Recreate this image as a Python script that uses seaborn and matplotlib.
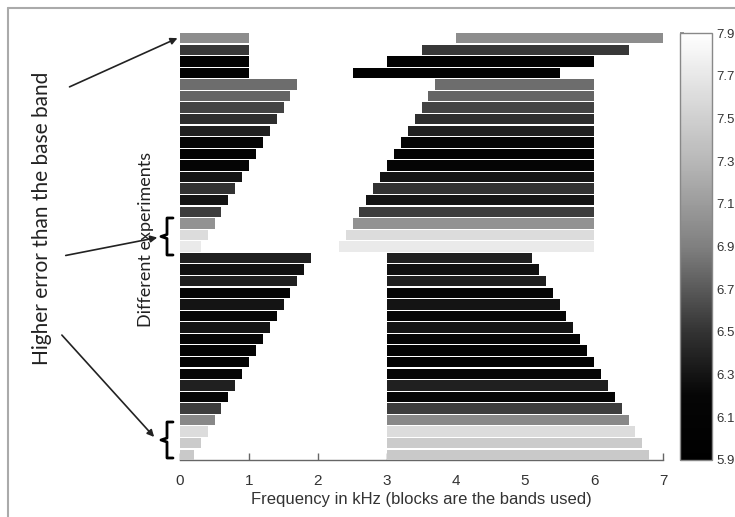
import numpy as np
import pandas as pd
import seaborn as sns
import matplotlib
matplotlib.use("Agg")
import matplotlib.pyplot as plt
from matplotlib.colors import LinearSegmentedColormap, Normalize
from matplotlib.cm import ScalarMappable
from matplotlib.lines import Line2D
from matplotlib.patches import FancyArrowPatch

# ---------------- data (one row per experiment, top to bottom) ----------------
low_band_end = [1.0, 1.0, 1.0, 1.0, 1.7, 1.6, 1.5, 1.4, 1.3, 1.2, 1.1, 1.0, 0.9, 0.8,
                0.7, 0.6, 0.5, 0.4, 0.3,
                1.9, 1.8, 1.7, 1.6, 1.5, 1.4, 1.3, 1.2, 1.1, 1.0, 0.9, 0.8, 0.7, 0.6,
                0.5, 0.4, 0.3, 0.2]
high_band_start = [4.0, 3.5, 3.0, 2.5, 3.7, 3.6, 3.5, 3.4, 3.3, 3.2, 3.1, 3.0, 2.9, 2.8,
                   2.7, 2.6, 2.5, 2.4, 2.3,
                   3.0, 3.0, 3.0, 3.0, 3.0, 3.0, 3.0, 3.0, 3.0, 3.0, 3.0, 3.0, 3.0, 3.0,
                   3.0, 3.0, 3.0, 3.0]
high_band_end = [7.0, 6.5, 6.0, 5.5, 6.0, 6.0, 6.0, 6.0, 6.0, 6.0, 6.0, 6.0, 6.0, 6.0,
                 6.0, 6.0, 6.0, 6.0, 6.0,
                 5.1, 5.2, 5.3, 5.4, 5.5, 5.6, 5.7, 5.8, 5.9, 6.0, 6.1, 6.2, 6.3, 6.4,
                 6.5, 6.6, 6.7, 6.8]
error_value = [7.00, 6.53, 6.00, 6.00, 6.80, 6.76, 6.58, 6.47, 6.38, 6.20, 6.10, 6.20,
               6.30, 6.50, 6.30, 6.55, 7.03, 7.60, 7.72,
               6.38, 6.27, 6.38, 6.20, 6.30, 6.20, 6.30, 6.20, 6.10, 6.10, 6.20, 6.38,
               6.20, 6.55, 6.96, 7.60, 7.46, 7.44]

x_ticks = [0, 1, 2, 3, 4, 5, 6, 7]
cbar_ticks = [5.9, 6.1, 6.3, 6.5, 6.7, 6.9, 7.1, 7.3, 7.5, 7.7, 7.9]
vmin, vmax = 5.9, 7.9

# grey colour map as it appears in the colour bar (dark bottom, light top)
cmap_values = [5.9, 6.2, 6.5, 6.9, 7.3, 7.9]
cmap_grey = [0.0, 0.02, 0.20, 0.50, 0.72, 1.0]

df = pd.DataFrame({
    "experiment": np.arange(len(error_value)),
    "low_end": low_band_end,
    "high_start": high_band_start,
    "high_end": high_band_end,
    "error": error_value,
})

# ---------------- style ----------------
sns.set_theme(style="white")
plt.rcParams["font.family"] = ["Liberation Sans", "DejaVu Sans"]

W, H = 735, 517
fig = plt.figure(figsize=(W / 100, H / 100), dpi=100)


def fx(px):
    return px / W


def fy(py):
    return 1 - py / H


nodes = [((v - vmin) / (vmax - vmin), (g, g, g)) for v, g in zip(cmap_values, cmap_grey)]
cmap = LinearSegmentedColormap.from_list("greyish", nodes)
norm = Normalize(vmin=vmin, vmax=vmax)

ax = fig.add_axes([fx(180), fy(460), fx(663) - fx(180), fy(33) - fy(460)])
bar_h = 0.9
colors = [cmap(norm(v)) for v in df["error"]]

ax.barh(df["experiment"], df["low_end"], left=0, height=bar_h, color=colors,
        edgecolor="none", zorder=3)
ax.barh(df["experiment"], df["high_end"] - df["high_start"], left=df["high_start"],
        height=bar_h, color=colors, edgecolor="none", zorder=3)

n = len(df)
ax.set_ylim(n - 1 + bar_h / 2, -bar_h / 2)
ax.set_xlim(0, 7)
ax.set_xticks(x_ticks)
ax.set_xticklabels([str(t) for t in x_ticks])
ax.set_yticks([])
for s in ["left", "top", "right"]:
    ax.spines[s].set_visible(False)
ax.spines["bottom"].set_color("#666666")
ax.spines["bottom"].set_linewidth(1.0)
ax.tick_params(axis="x", direction="in", length=5, width=1, color="#666666",
               labelsize=11, labelcolor="#333333", pad=10, bottom=True)
ax.set_xlabel("Frequency in kHz (blocks are the bands used)", fontsize=12,
              color="#333333", labelpad=3)

# ---------------- colour bar ----------------
cax = fig.add_axes([fx(680), fy(460), fx(712) - fx(680), fy(33) - fy(460)])
sm = ScalarMappable(norm=norm, cmap=cmap)
cb = fig.colorbar(sm, cax=cax, ticks=cbar_ticks)
cb.ax.set_yticklabels([f"{t:.1f}" for t in cbar_ticks])
cb.outline.set_edgecolor("#888888")
cb.outline.set_linewidth(1.0)
cb.ax.tick_params(direction="in", left=True, right=False, labelright=True,
                  length=3, color="#888888", labelsize=9.5, labelcolor="#333333", pad=3)

# ---------------- annotations ----------------
fig.text(fx(42), fy(218), "Higher error than the base band", rotation=90,
         ha="center", va="center", fontsize=15, color="#222222", family=["Lato", "DejaVu Sans"])
fig.text(fx(146), fy(239), "Different experiments", rotation=90,
         ha="center", va="center", fontsize=13, color="#222222", family=["Lato", "DejaVu Sans"])

arrows = [((67, 88), (180, 37)), ((63, 256), (160, 237)), ((60, 333), (156, 439))]
for (x0, y0), (x1, y1) in arrows:
    fig.patches.append(FancyArrowPatch((fx(x0), fy(y0)), (fx(x1), fy(y1)),
                                       transform=fig.transFigure, arrowstyle="-|>",
                                       mutation_scale=10, lw=1.2, color="#222222"))

for top, bot in [(218, 255), (422, 458)]:
    mid = (top + bot) / 2
    xs = [173, 167, 167, 161, 167, 167, 173]
    ys = [top, top, mid - 2, mid, mid + 2, bot, bot]
    fig.lines.append(Line2D([fx(x) for x in xs], [fy(y) for y in ys],
                            transform=fig.transFigure, color="black", lw=2.0))

# outer frame (top and left edges)
fig.lines.append(Line2D([fx(8), fx(735)], [fy(8), fy(8)], transform=fig.transFigure,
                        color="#aaaaaa", lw=1.5))
fig.lines.append(Line2D([fx(8), fx(8)], [fy(8), fy(517)], transform=fig.transFigure,
                        color="#aaaaaa", lw=1.5))

fig.savefig("out.png", dpi=100)
